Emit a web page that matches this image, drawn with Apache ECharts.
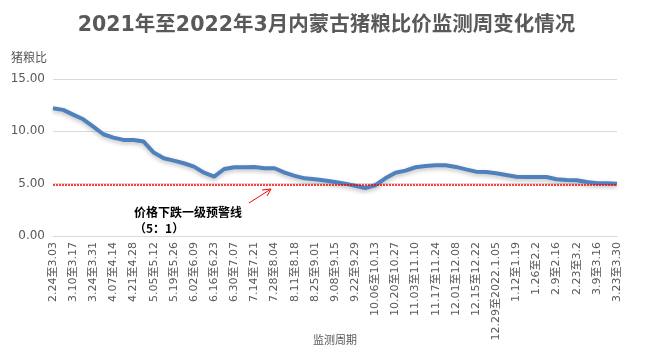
<!DOCTYPE html>
<html lang="zh">
<head>
    <meta charset="utf-8" />
    <title>内蒙古猪粮比价</title>
    <style>
        html, body { margin: 0; width: 100%; height: 100%; background: #fff; }
        #main { width: 653px; height: 355px; }
    </style>
</head>
<body>
    <div id="main"></div>
    <script src="https://cdn.jsdelivr.net/npm/echarts@6/dist/echarts.min.js"></script>
    <script type="text/javascript">
        // 每两周标注一次
        var tickLabels = ['2.24至3.03', '3.10至3.17', '3.24至3.31', '4.07至4.14', '4.21至4.28',
            '5.05至5.12', '5.19至5.26', '6.02至6.09', '6.16至6.23', '6.30至7.07',
            '7.14至7.21', '7.28至8.04', '8.11至8.18', '8.25至9.01', '9.08至9.15',
            '9.22至9.29', '10.06至10.13', '10.20至10.27', '11.03至11.10', '11.17至11.24',
            '12.01至12.08', '12.15至12.22', '12.29至2022.1.05', '1.12至1.19', '1.26至2.2',
            '2.9至2.16', '2.23至3.2', '3.9至3.16', '3.23至3.30'];

        var ratio = [12.2, 12.05, 11.6, 11.15, 10.45, 9.72, 9.4, 9.18, 9.18, 9.02,
            7.97, 7.43, 7.2, 6.95, 6.63, 6.05, 5.67, 6.4, 6.57, 6.57,
            6.6, 6.47, 6.47, 6.05, 5.74, 5.51, 5.42, 5.3, 5.15, 5.0,
            4.8, 4.58, 4.85, 5.51, 6.05, 6.25, 6.57, 6.69, 6.76, 6.76,
            6.6, 6.37, 6.15, 6.12, 5.99, 5.83, 5.67, 5.64, 5.64, 5.64,
            5.42, 5.35, 5.32, 5.16, 5.04, 5.04, 5.0];

        var warnLevel = 4.85;

        var categories = [];
        for (var i = 0; i < ratio.length; i++) {
            categories.push(i % 2 === 0 ? tickLabels[i / 2] : '');
        }

        var chart = echarts.init(document.getElementById('main'));
        var grayText = '#595959';

        var option = {
            animation: false,
            title: {
                text: '2021年至2022年3月内蒙古猪粮比价监测周变化情况',
                left: 'center',
                top: 10,
                textStyle: {
                    color: grayText,
                    fontSize: 20.5,
                    fontWeight: 'bold',
                    fontFamily: 'DejaVu Sans, Noto Sans CJK SC'
                }
            },
            grid: {
                left: 53,
                right: 36,
                top: 79,
                bottom: 119
            },
            xAxis: {
                type: 'category',
                data: categories,
                boundaryGap: false,
                name: '监测周期',
                nameLocation: 'middle',
                nameGap: 98,
                nameMoveOverlap: false,
                nameTextStyle: {
                    color: grayText,
                    fontSize: 11,
                    fontFamily: 'Noto Sans CJK SC'
                },
                axisLine: { lineStyle: { color: '#d9d9d9' } },
                axisTick: { show: false },
                axisLabel: {
                    interval: 0,
                    rotate: 90,
                    margin: 6,
                    color: grayText,
                    fontSize: 11,
                    fontFamily: 'DejaVu Sans, Noto Sans CJK SC'
                }
            },
            yAxis: {
                type: 'value',
                min: 0,
                max: 15,
                interval: 5,
                name: '猪粮比',
                nameLocation: 'end',
                nameGap: 16,
                nameTextStyle: {
                    color: grayText,
                    fontSize: 12,
                    align: 'right',
                    padding: [0, 6, 0, 0],
                    fontFamily: 'Noto Sans CJK SC'
                },
                axisLine: { show: false },
                axisTick: { show: false },
                splitLine: { lineStyle: { color: '#d9d9d9' } },
                axisLabel: {
                    color: grayText,
                    fontSize: 12,
                    margin: 8,
                    fontFamily: 'DejaVu Sans',
                    formatter: function (v) { return v.toFixed(2); }
                }
            },
            series: [{
                type: 'line',
                data: ratio,
                symbol: 'none',
                lineStyle: {
                    color: '#4f81bd',
                    width: 4,
                    shadowColor: 'rgba(0,0,0,0.25)',
                    shadowBlur: 4,
                    shadowOffsetY: 2
                },
                markLine: {
                    silent: true,
                    symbol: 'none',
                    label: { show: false },
                    lineStyle: {
                        color: '#ff0000',
                        type: [2, 1],
                        width: 1.5
                    },
                    data: [{ yAxis: warnLevel }]
                }
            }],
            graphic: [{
                type: 'text',
                left: 134,
                top: 204,
                style: {
                    text: '价格下跌一级预警线\n（5：1）',
                    fill: '#000',
                    font: 'bold 12px "Noto Sans CJK SC"',
                    lineHeight: 16
                }
            }, {
                type: 'line',
                shape: { x1: 249, y1: 203, x2: 271, y2: 189 },
                style: { stroke: '#ff0000', lineWidth: 1 }
            }, {
                type: 'polyline',
                shape: { points: [[262, 190], [271, 189], [267, 196]] },
                style: { stroke: '#ff0000', lineWidth: 1, fill: null }
            }]
        };

        chart.setOption(option);
    </script>
</body>
</html>
